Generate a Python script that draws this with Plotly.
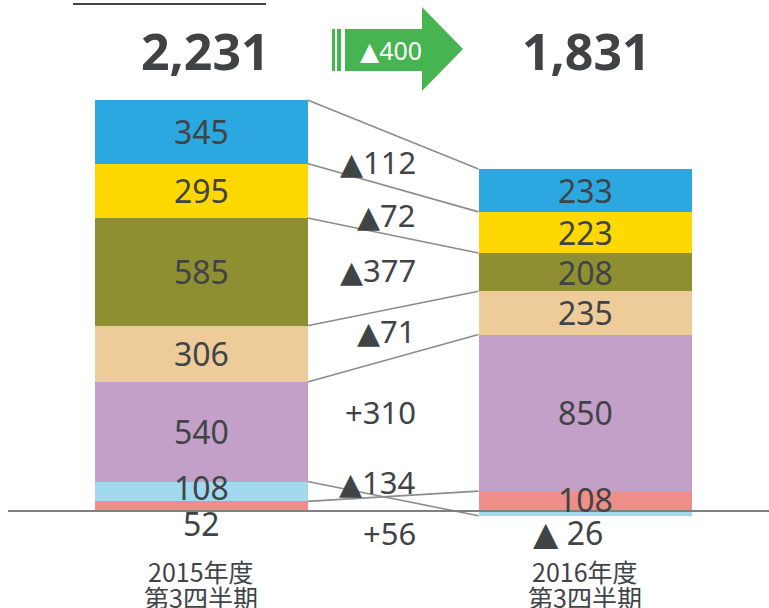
import plotly.graph_objects as go

# ---- data ----
categories = ["2015年度<br>第3四半期", "2016年度<br>第3四半期"]
cat_line1 = ["2015年度", "2016年度"]
cat_line2 = ["第3四半期", "第3四半期"]
segments = ["salmon", "lightblue", "purple", "tan", "olive", "yellow", "blue"]
values_2015 = [52, 108, 540, 306, 585, 295, 345]
values_2016 = [108, -26, 850, 235, 208, 223, 233]
totals = [2231, 1831]
total_change = -400
colors = ["#ef8e88", "#a3d9ef", "#c2a0c8", "#eecc9a", "#8e8f31", "#ffd800", "#2ca8e0"]

W, H = 769, 608
AXIS_PX = 511
PPU = 0.18420
Y_MAX = AXIS_PX / PPU
Y_MIN = -(H - AXIS_PX) / PPU
X0_PX, X1_PX = 201, 585
XU = X1_PX - X0_PX
X_MIN = -X0_PX / XU
X_MAX = (W - X0_PX) / XU
BAR_W = 213 / XU

TXT = "#404447"
FONT = "Noto Sans, DejaVu Sans"


def tri(size):
    return f"<span style='font-size:{size}px'>▲</span>"


def fmt(v, space=False, tri_size=33):
    if v < 0:
        return tri(tri_size) + (" " if space else "") + f"{abs(v):,}"
    return f"{v:,}"


def fmt_change(v, tri_size=30):
    return (tri(tri_size) + f"{abs(v):,}") if v < 0 else ("+" + f"{v:,}")


def py(p):  # pixel y -> paper
    return 1 - p / H


def px(p):
    return p / W


fig = go.Figure()
for i, seg in enumerate(segments):
    fig.add_trace(go.Bar(
        x=[0, 1], y=[values_2015[i], values_2016[i]], width=BAR_W,
        marker=dict(color=colors[i], line=dict(width=0)),
        name=seg, showlegend=False, hoverinfo="skip"))


def ends(vals):
    pos, neg = 0, 0
    out, mids = [], []
    for v in vals:
        if v >= 0:
            mids.append(pos + v / 2)
            pos += v
            out.append(pos)
        else:
            mids.append(neg + v / 2)
            neg += v
            out.append(neg)
    return out, mids


ends15, mids15 = ends(values_2015)
ends16, mids16 = ends(values_2016)

shapes = []
for a, b in zip(ends15, ends16):
    shapes.append(dict(type="line", xref="x", yref="y",
                       x0=BAR_W / 2, x1=1 - BAR_W / 2, y0=a, y1=b,
                       line=dict(color="#8c8c8c", width=1.6)))
# baseline
shapes.append(dict(type="line", xref="paper", yref="y", x0=px(8), x1=1,
                   y0=0, y1=0, line=dict(color="#808080", width=2)))
# top underline (cut-off heading)
shapes.append(dict(type="line", xref="paper", yref="paper", x0=px(73), x1=px(266),
                   y0=py(4), y1=py(4), line=dict(color="#404447", width=2)))
# green arrow
ARW = "#46b451"
shapes.append(dict(type="rect", xref="paper", yref="paper", x0=px(332), x1=px(335),
                   y0=py(71), y1=py(29), fillcolor=ARW, line=dict(width=0)))
shapes.append(dict(type="rect", xref="paper", yref="paper", x0=px(337), x1=px(341),
                   y0=py(71), y1=py(29), fillcolor=ARW, line=dict(width=0)))
pts = [(345, 29), (422, 29), (422, 7), (463, 49), (422, 91), (422, 71), (345, 71)]
path = "M " + " L ".join(f"{px(a)},{py(b)}" for a, b in pts) + " Z"
shapes.append(dict(type="path", xref="paper", yref="paper", path=path,
                   fillcolor=ARW, line=dict(width=0)))

ann = []
LBL = dict(family=FONT, size=32, color=TXT)
# bar labels
label_pos15 = list(mids15)
label_pos16 = list(mids16)
label_pos15[0] = -(523 - AXIS_PX) / PPU  # 52 below baseline
label_pos15[1] = (AXIS_PX - 487) / PPU
label_pos16[0] = (AXIS_PX - 499) / PPU
label_pos16[1] = -(532 - AXIS_PX) / PPU
for i in range(len(segments)):
    ann.append(dict(x=0, y=label_pos15[i], xref="x", yref="y", text=fmt(values_2015[i]),
                    xanchor="center", yanchor="middle", showarrow=False, font=LBL))
    ann.append(dict(x=1, y=label_pos16[i], xref="x", yref="y",
                    text=fmt(values_2016[i], space=True), xanchor="center", yanchor="middle",
                    xshift=(-17 if values_2016[i] < 0 else 0),
                    showarrow=False, font=LBL))

# change labels
change_py = [533, 482, 412, 331, 270, 215, 162]
for i in range(len(segments)):
    d = values_2016[i] - values_2015[i]
    ann.append(dict(x=px(418), y=py(change_py[i]), xref="paper", yref="paper",
                    xanchor="right", yanchor="middle", text=fmt_change(d), showarrow=False,
                    font=dict(family=FONT, size=31, color=TXT)))

# totals
for i, t in enumerate(totals):
    ann.append(dict(x=i, y=py(51), xref="x", yref="paper", text=f"<b>{t:,}</b>",
                    xanchor="center", yanchor="middle", showarrow=False,
                    xshift=(4 if i == 0 else 1),
                    font=dict(family=FONT, size=50, color="#404346")))
ann.append(dict(x=px(391), y=py(50), xref="paper", yref="paper",
                text=fmt_change(total_change, tri_size=25),
                xanchor="center", yanchor="middle", showarrow=False,
                font=dict(family=FONT, size=25, color="white")))

# category labels
for i in range(2):
    ann.append(dict(x=i, y=py(571), xref="x", yref="paper", text=cat_line1[i], showarrow=False,
                    xanchor="center", yanchor="middle",
                    font=dict(family="Noto Sans CJK JP", size=25, color=TXT)))
    ann.append(dict(x=i, y=py(597), xref="x", yref="paper", text=cat_line2[i], showarrow=False,
                    xanchor="center", yanchor="middle",
                    font=dict(family="Noto Sans CJK JP", size=25, color=TXT)))

fig.update_layout(
    width=W, height=H, margin=dict(l=0, r=0, t=0, b=0),
    barmode="relative", bargap=0,
    paper_bgcolor="white", plot_bgcolor="white",
    xaxis=dict(range=[X_MIN, X_MAX], visible=False, fixedrange=True),
    yaxis=dict(range=[Y_MIN, Y_MAX], visible=False, fixedrange=True),
    shapes=shapes, annotations=ann,
)
fig.write_html("out.html", config={"displayModeBar": False})
